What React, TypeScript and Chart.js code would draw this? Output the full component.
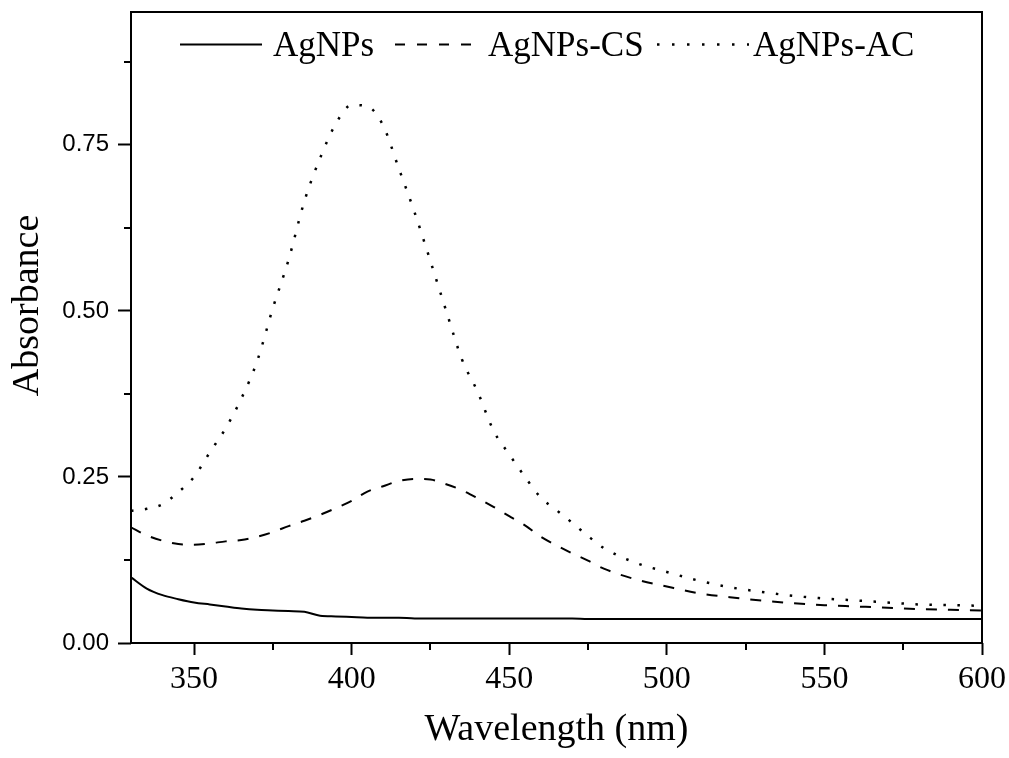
import React, { useEffect, useRef } from 'react';
import { Chart, registerables } from 'chart.js';

Chart.register(...registerables);

const WAVELENGTHS = [
  330, 335, 340, 345, 350, 355, 360, 365, 370, 375, 380, 385, 390, 395, 400, 405,
  410, 415, 420, 425, 430, 435, 440, 445, 450, 455, 460, 465, 470, 475, 480, 490,
  500, 510, 520, 530, 540, 550, 560, 570, 580, 590, 600,
];

const AGNPS = [
  0.099, 0.082, 0.072, 0.066, 0.061, 0.058, 0.055, 0.052, 0.05, 0.049, 0.048, 0.047,
  0.041, 0.04, 0.039, 0.038, 0.038, 0.038, 0.037, 0.037, 0.037, 0.037, 0.037, 0.037,
  0.037, 0.037, 0.037, 0.037, 0.037, 0.036, 0.036, 0.036, 0.036, 0.036, 0.036, 0.036,
  0.036, 0.036, 0.036, 0.036, 0.036, 0.036, 0.036,
];

const AGNPS_CS = [
  0.174, 0.162, 0.154, 0.149, 0.148, 0.15, 0.153, 0.155, 0.16, 0.167, 0.176, 0.184,
  0.193, 0.203, 0.214, 0.228, 0.236, 0.244, 0.247, 0.246, 0.239, 0.23, 0.218, 0.205,
  0.191, 0.177, 0.16, 0.147, 0.135, 0.124, 0.112, 0.096, 0.085, 0.075, 0.069, 0.064,
  0.06, 0.057, 0.055, 0.053, 0.051, 0.05, 0.049,
];

const AGNPS_AC = [
  0.199, 0.202, 0.209, 0.227, 0.25, 0.287, 0.323, 0.368, 0.424, 0.504, 0.577, 0.665,
  0.73, 0.782, 0.81, 0.808, 0.779, 0.714, 0.648, 0.575, 0.5, 0.427, 0.378, 0.32,
  0.284, 0.25, 0.219, 0.2, 0.181, 0.161, 0.143, 0.121, 0.107, 0.094, 0.084, 0.077,
  0.071, 0.067, 0.064, 0.061, 0.058, 0.057, 0.056,
];

const SERIES_NAMES = ['AgNPs', 'AgNPs-CS', 'AgNPs-AC'];
const X_TICKS = [350, 400, 450, 500, 550, 600];
const X_MINOR = [375, 425, 475, 525, 575];
const Y_TICKS = [0, 0.25, 0.5, 0.75];
const Y_MINOR = [0.125, 0.375, 0.625, 0.875];
const Y_TITLE = 'Absorbance';
const X_TITLE = 'Wavelength (nm)';

const DASHES: number[][] = [[], [11, 11], [2.5, 11.5]];
const LEGEND_DASHES: number[][] = [[], [10, 12], [2.5, 12.5]];

const SERIF = 'Liberation Serif';
const SANS = 'Liberation Sans';

const framePlugin = {
  id: 'frameAndLegend',
  afterDraw(chart: any) {
    const ctx = chart.ctx as CanvasRenderingContext2D;
    const { left, right, top, bottom } = chart.chartArea;
    const xs = chart.scales.x;
    const ys = chart.scales.y;
    ctx.save();
    ctx.strokeStyle = '#000';
    ctx.lineWidth = 2;
    ctx.setLineDash([]);
    ctx.strokeRect(left, top, right - left, bottom - top);
    // minor ticks
    ctx.beginPath();
    X_MINOR.forEach((v) => {
      const px = Math.round(xs.getPixelForValue(v));
      ctx.moveTo(px, bottom);
      ctx.lineTo(px, bottom + 7);
    });
    Y_MINOR.forEach((v) => {
      const py = Math.round(ys.getPixelForValue(v));
      ctx.moveTo(left, py);
      ctx.lineTo(left - 7, py);
    });
    ctx.stroke();

    // y axis title
    ctx.save();
    ctx.translate(28, (top + bottom) / 2 - 22);
    ctx.rotate(-Math.PI / 2);
    ctx.font = `38px "${SERIF}"`;
    ctx.fillStyle = '#000';
    ctx.textAlign = 'center';
    ctx.textBaseline = 'middle';
    ctx.fillText(Y_TITLE, 0, 0);
    ctx.restore();

    // legend
    const ly = top + 32.5;
    const items = [
      { x0: left + 49, x1: left + 131, tx: left + 142 },
      { x0: left + 264, x1: left + 341, tx: left + 357 },
      { x0: left + 526, x1: left + 618, tx: left + 622 },
    ];
    ctx.font = `35px "${SERIF}"`;
    ctx.fillStyle = '#000';
    ctx.textBaseline = 'alphabetic';
    ctx.textAlign = 'left';
    items.forEach((it, i) => {
      ctx.beginPath();
      ctx.setLineDash(LEGEND_DASHES[i]);
      ctx.lineWidth = i === 2 ? 2.5 : 2;
      ctx.moveTo(it.x0, ly);
      ctx.lineTo(it.x1, ly);
      ctx.stroke();
      ctx.fillText(SERIES_NAMES[i], it.tx, top + 44);
    });
    ctx.restore();
  },
};

export default function App() {
  const canvasRef = useRef<HTMLCanvasElement | null>(null);

  useEffect(() => {
    document.body.style.margin = '0';
    const canvas = canvasRef.current;
    if (!canvas) return;
    const seriesData = [AGNPS, AGNPS_CS, AGNPS_AC];
    const chart = new Chart(canvas, {
      type: 'line',
      data: {
        datasets: seriesData.map((vals, i) => ({
          label: SERIES_NAMES[i],
          data: WAVELENGTHS.map((x, j) => ({ x, y: vals[j] })),
          borderColor: '#000',
          backgroundColor: '#000',
          borderWidth: i === 2 ? 2.5 : 2,
          borderDash: DASHES[i],
          pointRadius: 0,
          fill: false,
          cubicInterpolationMode: 'monotone' as const,
        })),
      },
      options: {
        responsive: false,
        animation: false,
        devicePixelRatio: 1,
        layout: { padding: { top: 12, right: 27, left: 0, bottom: 0 } },
        plugins: {
          legend: { display: false },
          tooltip: { enabled: false },
        },
        scales: {
          x: {
            type: 'linear',
            min: 330,
            max: 600,
            afterBuildTicks: (s: any) => {
              s.ticks = X_TICKS.map((v) => ({ value: v }));
            },
            afterFit: (s: any) => {
              s.height = 115;
              s.paddingLeft = 0;
              s.paddingRight = 0;
            },
            border: { display: false },
            grid: {
              drawOnChartArea: false,
              drawTicks: true,
              tickLength: 12,
              tickWidth: 2,
              tickColor: '#000',
              color: '#000',
            },
            ticks: {
              color: '#000',
              font: { family: SERIF, size: 32 },
              padding: 5,
              maxRotation: 0,
              autoSkip: false,
              callback: (v: any) => String(v),
            },
            title: {
              display: true,
              text: X_TITLE,
              color: '#000',
              font: { family: SERIF, size: 38 },
              padding: { top: 0, bottom: 5 },
            },
          },
          y: {
            type: 'linear',
            min: 0,
            max: 0.95,
            afterBuildTicks: (s: any) => {
              s.ticks = Y_TICKS.map((v) => ({ value: v }));
            },
            afterFit: (s: any) => {
              s.width = 131;
              s.paddingTop = 0;
              s.paddingBottom = 0;
            },
            border: { display: false },
            grid: {
              drawOnChartArea: false,
              drawTicks: true,
              tickLength: 13,
              tickWidth: 2,
              tickColor: '#000',
              color: '#000',
            },
            ticks: {
              color: '#000',
              font: { family: SANS, size: 24 },
              padding: 9,
              autoSkip: false,
              callback: (v: any) => Number(v).toFixed(2),
            },
            title: { display: false },
          },
        },
      },
      plugins: [framePlugin],
    });
    return () => chart.destroy();
  }, []);

  return (
    <div style={{ width: 1009, height: 758 }}>
      <canvas ref={canvasRef} width={1009} height={758} style={{ display: 'block' }} />
    </div>
  );
}
